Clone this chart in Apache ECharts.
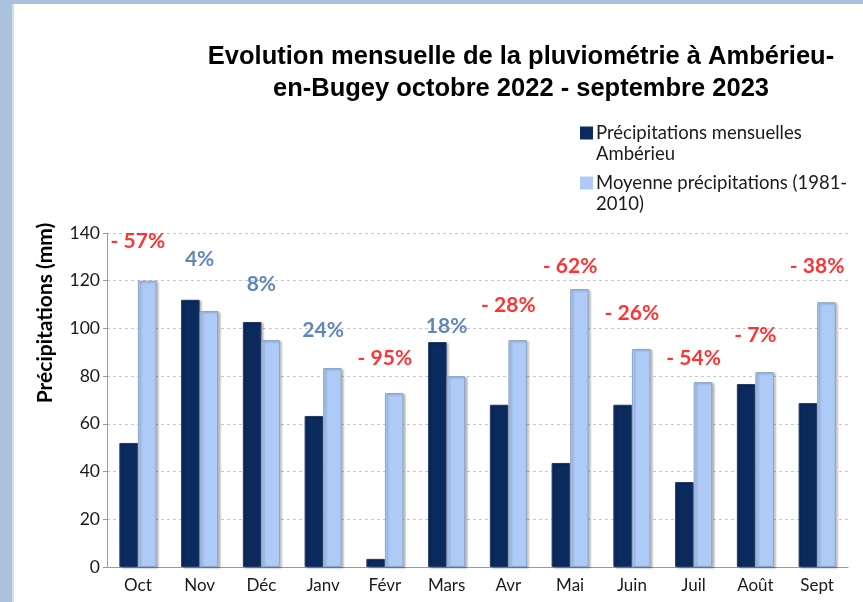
<!DOCTYPE html>
<html>
<head>
<meta charset="utf-8">
<script src="https://cdn.jsdelivr.net/npm/echarts@6/dist/echarts.min.js"></script>
<style>
html,body{margin:0;padding:0;background:#fff;}
#chart{width:863px;height:602px;}
</style>
</head>
<body>
<div id="chart"></div>
<script>
const months = ['Oct','Nov','Déc','Janv','Févr','Mars','Avr','Mai','Juin','Juil','Août','Sept'];
const monthly = [52, 112, 102.7, 63.3, 3.4, 94.3, 68, 43.6, 68, 35.6, 76.7, 68.7];
const normal = [120, 107.3, 95.1, 83.4, 72.9, 80, 95.1, 116.5, 91.4, 77.5, 81.7, 111];
const deviationLabels = ['- 57%','4%','8%','24%','- 95%','18%','- 28%','- 62%','- 26%','- 54%','- 7%','- 38%'];
const deviationLabelLevel = [136.6, 129, 118.6, 99.3, 87.6, 101, 109.8, 126.2, 106.5, 87.4, 97, 126.2];
const yTicks = [0, 20, 40, 60, 80, 100, 120, 140];
const seriesNames = ['Précipitations mensuelles Ambérieu', 'Moyenne précipitations (1981-2010)'];
const legendWrapped = {
  'Précipitations mensuelles Ambérieu': 'Précipitations mensuelles\nAmbérieu',
  'Moyenne précipitations (1981-2010)': 'Moyenne précipitations (1981-\n2010)'
};

const FONT = 'Lato';
const chart = echarts.init(document.getElementById('chart'), null, {renderer: 'canvas'});
const option = {
  backgroundColor: '#ffffff',
  animation: false,
  title: {
    text: 'Evolution mensuelle de la pluviométrie à Ambérieu-\nen-Bugey octobre 2022 - septembre 2023',
    left: 516,
    top: 36,
    textAlign: 'center',
    textStyle: {
      fontFamily: 'Liberation Sans',
      fontWeight: 'bold',
      fontSize: 25.5,
      lineHeight: 32,
      color: '#000'
    }
  },
  legend: {
    orient: 'vertical',
    left: 575,
    top: 118,
    icon: 'path://M0,0H13V13H0Z M0,33.95H0.05V34H0Z',
    itemWidth: 13,
    itemHeight: 34,
    itemGap: 9,
    itemStyle: {borderWidth: 0, shadowBlur: 0, shadowOffsetX: 0, shadowOffsetY: 0},
    data: seriesNames,
    formatter: n => legendWrapped[n] || n,
    textStyle: {
      fontFamily: FONT,
      fontSize: 18.5,
      lineHeight: 20.5,
      color: '#1a1a1a',
      padding: [0, 0, 0, -2]
    }
  },
  graphic: [
    {type: 'rect', shape: {x: 0, y: 0, width: 12, height: 602}, style: {fill: '#abc2de'}, z: 100},
    {type: 'rect', shape: {x: 0, y: 0, width: 863, height: 4}, style: {fill: '#abc2de'}, z: 100},
    {type: 'rect', shape: {x: 12, y: 4, width: 2, height: 598}, style: {fill: '#d5dfec'}, z: 100},
    {
      type: 'text',
      x: 45, y: 313,
      rotation: Math.PI / 2,
      style: {
        text: 'Précipitations (mm)',
        fontFamily: FONT,
        fontWeight: 'bold',
        fontSize: 21,
        fill: '#000',
        align: 'center',
        verticalAlign: 'middle'
      }
    }
  ],
  grid: {left: 107, right: 15, top: 233, bottom: 35},
  xAxis: {
    type: 'category',
    data: months,
    axisLine: {lineStyle: {color: '#9a9a9a', width: 1}},
    axisTick: {show: false},
    axisLabel: {fontFamily: FONT, fontSize: 17, color: '#1a1a1a', margin: 10}
  },
  yAxis: {
    type: 'value',
    min: yTicks[0],
    max: yTicks[yTicks.length - 1],
    interval: 20,
    axisLine: {show: true, lineStyle: {color: '#9a9a9a', width: 1}},
    axisTick: {show: true, length: 4, lineStyle: {color: '#9a9a9a'}},
    axisLabel: {fontFamily: FONT, fontSize: 17.5, color: '#1a1a1a', margin: 7},
    splitLine: {lineStyle: {color: '#c8c8c8', type: [3, 3], width: 1}}
  },
  series: [
    {
      name: seriesNames[0],
      type: 'bar',
      data: monthly,
      barWidth: '30%',
      barGap: '0%',
      itemStyle: {
        color: '#0b2a5e',
        borderColor: '#253c66',
        borderWidth: 1,
        shadowColor: 'rgba(0,0,0,0.25)',
        shadowBlur: 2,
        shadowOffsetX: 2,
        shadowOffsetY: 1
      }
    },
    {
      name: seriesNames[1],
      type: 'bar',
      data: normal,
      barWidth: '30%',
      itemStyle: {
        color: '#adcbf6',
        borderColor: '#8ea5c6',
        borderWidth: 1,
        shadowColor: 'rgba(0,0,0,0.25)',
        shadowBlur: 2,
        shadowOffsetX: 2,
        shadowOffsetY: 1
      }
    },
    {
      name: 'Écart',
      type: 'scatter',
      data: deviationLabelLevel,
      symbolSize: 1,
      itemStyle: {color: 'rgba(0,0,0,0)'},
      silent: true,
      z: 10,
      label: {
        show: true,
        position: 'inside',
        formatter: p => deviationLabels[p.dataIndex],
        fontFamily: FONT,
        fontWeight: 'bold',
        fontSize: 21,
        color: '#ff0000'
      },
      labelLayout: {hideOverlap: false}
    }
  ]
};
// colour deviation labels: red for deficit, blue for surplus
option.series[2].data = deviationLabelLevel.map((v, i) => ({
  value: v,
  label: {color: deviationLabels[i].indexOf('-') === 0 ? '#ff0000' : '#3a68ad'}
}));
chart.setOption(option);
</script>
</body>
</html>
